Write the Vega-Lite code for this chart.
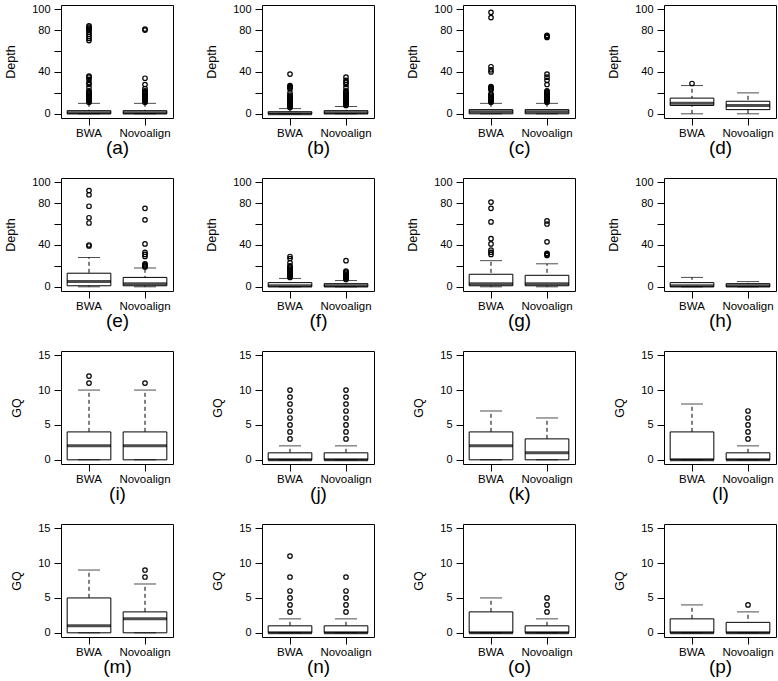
{
"$schema":"https://vega.github.io/schema/vega-lite/v6.json",
"padding":{"left":4,"top":2,"right":0,"bottom":0},
"datasets":{"d":[
{"p":"a","g":"BWA","lo":0,"q1":0,"med":1,"q3":3,"hi":10},{"p":"a","g":"Novoalign","lo":0,"q1":0,"med":1,"q3":3,"hi":10},
{"p":"b","g":"BWA","lo":0,"q1":0,"med":0,"q3":2,"hi":5},{"p":"b","g":"Novoalign","lo":0,"q1":0,"med":1,"q3":3,"hi":7},
{"p":"c","g":"BWA","lo":0,"q1":0,"med":2,"q3":4,"hi":10},{"p":"c","g":"Novoalign","lo":0,"q1":0,"med":2,"q3":4,"hi":10},
{"p":"d","g":"BWA","lo":0,"q1":8,"med":10,"q3":15,"hi":27},{"p":"d","g":"Novoalign","lo":0,"q1":4,"med":8,"q3":12,"hi":20},
{"p":"e","g":"BWA","lo":0,"q1":1,"med":5,"q3":13,"hi":28},{"p":"e","g":"Novoalign","lo":0,"q1":1,"med":3,"q3":9,"hi":18},
{"p":"f","g":"BWA","lo":0,"q1":0,"med":1,"q3":4,"hi":8},{"p":"f","g":"Novoalign","lo":0,"q1":0,"med":1,"q3":3,"hi":6},
{"p":"g","g":"BWA","lo":0,"q1":1,"med":3,"q3":12,"hi":25},{"p":"g","g":"Novoalign","lo":0,"q1":1,"med":3,"q3":11,"hi":22},
{"p":"h","g":"BWA","lo":0,"q1":0,"med":1,"q3":4,"hi":9},{"p":"h","g":"Novoalign","lo":0,"q1":0,"med":1,"q3":3,"hi":5},
{"p":"i","g":"BWA","lo":0,"q1":0,"med":2,"q3":4,"hi":10},{"p":"i","g":"Novoalign","lo":0,"q1":0,"med":2,"q3":4,"hi":10},
{"p":"j","g":"BWA","lo":0,"q1":0,"med":0,"q3":1,"hi":2},{"p":"j","g":"Novoalign","lo":0,"q1":0,"med":0,"q3":1,"hi":2},
{"p":"k","g":"BWA","lo":0,"q1":0,"med":2,"q3":4,"hi":7},{"p":"k","g":"Novoalign","lo":0,"q1":0,"med":1,"q3":3,"hi":6},
{"p":"l","g":"BWA","lo":0,"q1":0,"med":0,"q3":4,"hi":8},{"p":"l","g":"Novoalign","lo":0,"q1":0,"med":0,"q3":1,"hi":2},
{"p":"m","g":"BWA","lo":0,"q1":0,"med":1,"q3":5,"hi":9},{"p":"m","g":"Novoalign","lo":0,"q1":0,"med":2,"q3":3,"hi":7},
{"p":"n","g":"BWA","lo":0,"q1":0,"med":0,"q3":1,"hi":2},{"p":"n","g":"Novoalign","lo":0,"q1":0,"med":0,"q3":1,"hi":2},
{"p":"o","g":"BWA","lo":0,"q1":0,"med":0,"q3":3,"hi":5},{"p":"o","g":"Novoalign","lo":0,"q1":0,"med":0,"q3":1,"hi":2},
{"p":"p","g":"BWA","lo":0,"q1":0,"med":0,"q3":2,"hi":4},{"p":"p","g":"Novoalign","lo":0,"q1":0,"med":0,"q3":1.5,"hi":3},
{"p":"a","g":"BWA","v":11},{"p":"a","g":"BWA","v":12},{"p":"a","g":"BWA","v":13},{"p":"a","g":"BWA","v":14},{"p":"a","g":"BWA","v":15},{"p":"a","g":"BWA","v":16},{"p":"a","g":"BWA","v":17},{"p":"a","g":"BWA","v":18},{"p":"a","g":"BWA","v":19},{"p":"a","g":"BWA","v":20},{"p":"a","g":"BWA","v":21},{"p":"a","g":"BWA","v":22},{"p":"a","g":"BWA","v":25},{"p":"a","g":"BWA","v":28},{"p":"a","g":"BWA","v":30},{"p":"a","g":"BWA","v":33},{"p":"a","g":"BWA","v":35},{"p":"a","g":"BWA","v":36},{"p":"a","g":"BWA","v":70},{"p":"a","g":"BWA","v":72},{"p":"a","g":"BWA","v":74},{"p":"a","g":"BWA","v":76},{"p":"a","g":"BWA","v":78},{"p":"a","g":"BWA","v":80},{"p":"a","g":"BWA","v":81},{"p":"a","g":"BWA","v":82},{"p":"a","g":"BWA","v":83},{"p":"a","g":"BWA","v":84},
{"p":"a","g":"Novoalign","v":11},{"p":"a","g":"Novoalign","v":12},{"p":"a","g":"Novoalign","v":13},{"p":"a","g":"Novoalign","v":14},{"p":"a","g":"Novoalign","v":15},{"p":"a","g":"Novoalign","v":16},{"p":"a","g":"Novoalign","v":17},{"p":"a","g":"Novoalign","v":18},{"p":"a","g":"Novoalign","v":19},{"p":"a","g":"Novoalign","v":20},{"p":"a","g":"Novoalign","v":21},{"p":"a","g":"Novoalign","v":22},{"p":"a","g":"Novoalign","v":24},{"p":"a","g":"Novoalign","v":28},{"p":"a","g":"Novoalign","v":34},{"p":"a","g":"Novoalign","v":80},{"p":"a","g":"Novoalign","v":81},
{"p":"b","g":"BWA","v":6},{"p":"b","g":"BWA","v":7},{"p":"b","g":"BWA","v":8},{"p":"b","g":"BWA","v":9},{"p":"b","g":"BWA","v":10},{"p":"b","g":"BWA","v":11},{"p":"b","g":"BWA","v":12},{"p":"b","g":"BWA","v":13},{"p":"b","g":"BWA","v":14},{"p":"b","g":"BWA","v":15},{"p":"b","g":"BWA","v":16},{"p":"b","g":"BWA","v":17},{"p":"b","g":"BWA","v":18},{"p":"b","g":"BWA","v":20},{"p":"b","g":"BWA","v":24},{"p":"b","g":"BWA","v":25},{"p":"b","g":"BWA","v":26},{"p":"b","g":"BWA","v":27},{"p":"b","g":"BWA","v":38},
{"p":"b","g":"Novoalign","v":8},{"p":"b","g":"Novoalign","v":9},{"p":"b","g":"Novoalign","v":10},{"p":"b","g":"Novoalign","v":11},{"p":"b","g":"Novoalign","v":12},{"p":"b","g":"Novoalign","v":13},{"p":"b","g":"Novoalign","v":14},{"p":"b","g":"Novoalign","v":15},{"p":"b","g":"Novoalign","v":16},{"p":"b","g":"Novoalign","v":17},{"p":"b","g":"Novoalign","v":18},{"p":"b","g":"Novoalign","v":19},{"p":"b","g":"Novoalign","v":20},{"p":"b","g":"Novoalign","v":21},{"p":"b","g":"Novoalign","v":22},{"p":"b","g":"Novoalign","v":25},{"p":"b","g":"Novoalign","v":28},{"p":"b","g":"Novoalign","v":30},{"p":"b","g":"Novoalign","v":32},{"p":"b","g":"Novoalign","v":35},
{"p":"c","g":"BWA","v":11},{"p":"c","g":"BWA","v":12},{"p":"c","g":"BWA","v":13},{"p":"c","g":"BWA","v":14},{"p":"c","g":"BWA","v":15},{"p":"c","g":"BWA","v":16},{"p":"c","g":"BWA","v":17},{"p":"c","g":"BWA","v":18},{"p":"c","g":"BWA","v":19},{"p":"c","g":"BWA","v":23},{"p":"c","g":"BWA","v":24},{"p":"c","g":"BWA","v":25},{"p":"c","g":"BWA","v":26},{"p":"c","g":"BWA","v":40},{"p":"c","g":"BWA","v":42},{"p":"c","g":"BWA","v":45},{"p":"c","g":"BWA","v":92},{"p":"c","g":"BWA","v":97},
{"p":"c","g":"Novoalign","v":11},{"p":"c","g":"Novoalign","v":12},{"p":"c","g":"Novoalign","v":13},{"p":"c","g":"Novoalign","v":14},{"p":"c","g":"Novoalign","v":15},{"p":"c","g":"Novoalign","v":16},{"p":"c","g":"Novoalign","v":17},{"p":"c","g":"Novoalign","v":18},{"p":"c","g":"Novoalign","v":19},{"p":"c","g":"Novoalign","v":20},{"p":"c","g":"Novoalign","v":21},{"p":"c","g":"Novoalign","v":22},{"p":"c","g":"Novoalign","v":28},{"p":"c","g":"Novoalign","v":32},{"p":"c","g":"Novoalign","v":35},{"p":"c","g":"Novoalign","v":38},{"p":"c","g":"Novoalign","v":73},{"p":"c","g":"Novoalign","v":74},{"p":"c","g":"Novoalign","v":75},
{"p":"d","g":"BWA","v":29},
{"p":"e","g":"BWA","v":39},{"p":"e","g":"BWA","v":40},{"p":"e","g":"BWA","v":61},{"p":"e","g":"BWA","v":66},{"p":"e","g":"BWA","v":77},{"p":"e","g":"BWA","v":88},{"p":"e","g":"BWA","v":92},
{"p":"e","g":"Novoalign","v":19},{"p":"e","g":"Novoalign","v":20},{"p":"e","g":"Novoalign","v":21},{"p":"e","g":"Novoalign","v":22},{"p":"e","g":"Novoalign","v":29},{"p":"e","g":"Novoalign","v":31},{"p":"e","g":"Novoalign","v":33},{"p":"e","g":"Novoalign","v":41},{"p":"e","g":"Novoalign","v":64},{"p":"e","g":"Novoalign","v":75},
{"p":"f","g":"BWA","v":9},{"p":"f","g":"BWA","v":10},{"p":"f","g":"BWA","v":11},{"p":"f","g":"BWA","v":12},{"p":"f","g":"BWA","v":13},{"p":"f","g":"BWA","v":14},{"p":"f","g":"BWA","v":15},{"p":"f","g":"BWA","v":16},{"p":"f","g":"BWA","v":17},{"p":"f","g":"BWA","v":18},{"p":"f","g":"BWA","v":19},{"p":"f","g":"BWA","v":20},{"p":"f","g":"BWA","v":23},{"p":"f","g":"BWA","v":27},{"p":"f","g":"BWA","v":29},
{"p":"f","g":"Novoalign","v":7},{"p":"f","g":"Novoalign","v":8},{"p":"f","g":"Novoalign","v":9},{"p":"f","g":"Novoalign","v":10},{"p":"f","g":"Novoalign","v":11},{"p":"f","g":"Novoalign","v":12},{"p":"f","g":"Novoalign","v":13},{"p":"f","g":"Novoalign","v":14},{"p":"f","g":"Novoalign","v":15},{"p":"f","g":"Novoalign","v":25},
{"p":"g","g":"BWA","v":31},{"p":"g","g":"BWA","v":33},{"p":"g","g":"BWA","v":35},{"p":"g","g":"BWA","v":41},{"p":"g","g":"BWA","v":46},{"p":"g","g":"BWA","v":62},{"p":"g","g":"BWA","v":75},{"p":"g","g":"BWA","v":81},
{"p":"g","g":"Novoalign","v":30},{"p":"g","g":"Novoalign","v":31},{"p":"g","g":"Novoalign","v":32},{"p":"g","g":"Novoalign","v":43},{"p":"g","g":"Novoalign","v":60},{"p":"g","g":"Novoalign","v":63},
{"p":"i","g":"BWA","v":11},{"p":"i","g":"BWA","v":12},{"p":"i","g":"Novoalign","v":11},
{"p":"j","g":"BWA","v":3},{"p":"j","g":"BWA","v":4},{"p":"j","g":"BWA","v":5},{"p":"j","g":"BWA","v":6},{"p":"j","g":"BWA","v":7},{"p":"j","g":"BWA","v":8},{"p":"j","g":"BWA","v":9},{"p":"j","g":"BWA","v":10},
{"p":"j","g":"Novoalign","v":3},{"p":"j","g":"Novoalign","v":4},{"p":"j","g":"Novoalign","v":5},{"p":"j","g":"Novoalign","v":6},{"p":"j","g":"Novoalign","v":7},{"p":"j","g":"Novoalign","v":8},{"p":"j","g":"Novoalign","v":9},{"p":"j","g":"Novoalign","v":10},
{"p":"l","g":"Novoalign","v":3},{"p":"l","g":"Novoalign","v":4},{"p":"l","g":"Novoalign","v":5},{"p":"l","g":"Novoalign","v":6},{"p":"l","g":"Novoalign","v":7},
{"p":"m","g":"Novoalign","v":8},{"p":"m","g":"Novoalign","v":9},
{"p":"n","g":"BWA","v":3},{"p":"n","g":"BWA","v":4},{"p":"n","g":"BWA","v":5},{"p":"n","g":"BWA","v":6},{"p":"n","g":"BWA","v":8},{"p":"n","g":"BWA","v":11},
{"p":"n","g":"Novoalign","v":3},{"p":"n","g":"Novoalign","v":4},{"p":"n","g":"Novoalign","v":5},{"p":"n","g":"Novoalign","v":6},{"p":"n","g":"Novoalign","v":8},
{"p":"o","g":"Novoalign","v":3},{"p":"o","g":"Novoalign","v":4},{"p":"o","g":"Novoalign","v":5},
{"p":"p","g":"Novoalign","v":4}
]},
"data":{"name":"d"},
"columns":4,
"spacing":{"row":60,"column":89},
"bounds":"flush",
"concat":[
{"width":112,"height":113,"transform":[{"filter":"datum.p=='a'"}],"encoding":{"x":{"field":"g","type":"nominal","title":"(a)","scale":{"domain":["BWA","Novoalign"],"paddingInner":0,"paddingOuter":0}}},"layer":[
{"mark":{"type":"rule","strokeDash":[4,3],"color":"black"},"encoding":{"y":{"field":"lo","type":"quantitative","title":"Depth","scale":{"domain":[-4,104],"nice":false},"axis":{"values":[0,20,40,60,80,100],"labelExpr":"datum.value==20||datum.value==60?'':datum.label","labelOverlap":false}},"y2":{"field":"hi"}}},
{"mark":{"type":"bar","width":{"band":0.78},"fill":"white","stroke":"black","strokeWidth":1},"encoding":{"y":{"field":"q1","type":"quantitative","title":"Depth","scale":{"domain":[-4,104],"nice":false},"axis":{"values":[0,20,40,60,80,100],"labelExpr":"datum.value==20||datum.value==60?'':datum.label","labelOverlap":false}},"y2":{"field":"q3"}}},
{"mark":{"type":"tick","size":44,"thickness":3,"color":"black"},"encoding":{"y":{"field":"med","type":"quantitative","title":"Depth","scale":{"domain":[-4,104],"nice":false},"axis":{"values":[0,20,40,60,80,100],"labelExpr":"datum.value==20||datum.value==60?'':datum.label","labelOverlap":false}}}},
{"transform":[{"fold":["lo","hi"],"as":["k","cap"]}],"mark":{"type":"tick","size":22,"thickness":1,"color":"black"},"encoding":{"y":{"field":"cap","type":"quantitative","title":"Depth","scale":{"domain":[-4,104],"nice":false},"axis":{"values":[0,20,40,60,80,100],"labelExpr":"datum.value==20||datum.value==60?'':datum.label","labelOverlap":false}}}},
{"mark":{"type":"point","shape":"circle","filled":false,"size":20,"strokeWidth":1.2,"color":"black","opacity":1},"encoding":{"y":{"field":"v","type":"quantitative","title":"Depth","scale":{"domain":[-4,104],"nice":false},"axis":{"values":[0,20,40,60,80,100],"labelExpr":"datum.value==20||datum.value==60?'':datum.label","labelOverlap":false}}}}]},
{"width":112,"height":113,"transform":[{"filter":"datum.p=='b'"}],"encoding":{"x":{"field":"g","type":"nominal","title":"(b)","scale":{"domain":["BWA","Novoalign"],"paddingInner":0,"paddingOuter":0}}},"layer":[
{"mark":{"type":"rule","strokeDash":[4,3],"color":"black"},"encoding":{"y":{"field":"lo","type":"quantitative","title":"Depth","scale":{"domain":[-4,104],"nice":false},"axis":{"values":[0,20,40,60,80,100],"labelExpr":"datum.value==20||datum.value==60?'':datum.label","labelOverlap":false}},"y2":{"field":"hi"}}},
{"mark":{"type":"bar","width":{"band":0.78},"fill":"white","stroke":"black","strokeWidth":1},"encoding":{"y":{"field":"q1","type":"quantitative","title":"Depth","scale":{"domain":[-4,104],"nice":false},"axis":{"values":[0,20,40,60,80,100],"labelExpr":"datum.value==20||datum.value==60?'':datum.label","labelOverlap":false}},"y2":{"field":"q3"}}},
{"mark":{"type":"tick","size":44,"thickness":3,"color":"black"},"encoding":{"y":{"field":"med","type":"quantitative","title":"Depth","scale":{"domain":[-4,104],"nice":false},"axis":{"values":[0,20,40,60,80,100],"labelExpr":"datum.value==20||datum.value==60?'':datum.label","labelOverlap":false}}}},
{"transform":[{"fold":["lo","hi"],"as":["k","cap"]}],"mark":{"type":"tick","size":22,"thickness":1,"color":"black"},"encoding":{"y":{"field":"cap","type":"quantitative","title":"Depth","scale":{"domain":[-4,104],"nice":false},"axis":{"values":[0,20,40,60,80,100],"labelExpr":"datum.value==20||datum.value==60?'':datum.label","labelOverlap":false}}}},
{"mark":{"type":"point","shape":"circle","filled":false,"size":20,"strokeWidth":1.2,"color":"black","opacity":1},"encoding":{"y":{"field":"v","type":"quantitative","title":"Depth","scale":{"domain":[-4,104],"nice":false},"axis":{"values":[0,20,40,60,80,100],"labelExpr":"datum.value==20||datum.value==60?'':datum.label","labelOverlap":false}}}}]},
{"width":112,"height":113,"transform":[{"filter":"datum.p=='c'"}],"encoding":{"x":{"field":"g","type":"nominal","title":"(c)","scale":{"domain":["BWA","Novoalign"],"paddingInner":0,"paddingOuter":0}}},"layer":[
{"mark":{"type":"rule","strokeDash":[4,3],"color":"black"},"encoding":{"y":{"field":"lo","type":"quantitative","title":"Depth","scale":{"domain":[-4,104],"nice":false},"axis":{"values":[0,20,40,60,80,100],"labelExpr":"datum.value==20||datum.value==60?'':datum.label","labelOverlap":false}},"y2":{"field":"hi"}}},
{"mark":{"type":"bar","width":{"band":0.78},"fill":"white","stroke":"black","strokeWidth":1},"encoding":{"y":{"field":"q1","type":"quantitative","title":"Depth","scale":{"domain":[-4,104],"nice":false},"axis":{"values":[0,20,40,60,80,100],"labelExpr":"datum.value==20||datum.value==60?'':datum.label","labelOverlap":false}},"y2":{"field":"q3"}}},
{"mark":{"type":"tick","size":44,"thickness":3,"color":"black"},"encoding":{"y":{"field":"med","type":"quantitative","title":"Depth","scale":{"domain":[-4,104],"nice":false},"axis":{"values":[0,20,40,60,80,100],"labelExpr":"datum.value==20||datum.value==60?'':datum.label","labelOverlap":false}}}},
{"transform":[{"fold":["lo","hi"],"as":["k","cap"]}],"mark":{"type":"tick","size":22,"thickness":1,"color":"black"},"encoding":{"y":{"field":"cap","type":"quantitative","title":"Depth","scale":{"domain":[-4,104],"nice":false},"axis":{"values":[0,20,40,60,80,100],"labelExpr":"datum.value==20||datum.value==60?'':datum.label","labelOverlap":false}}}},
{"mark":{"type":"point","shape":"circle","filled":false,"size":20,"strokeWidth":1.2,"color":"black","opacity":1},"encoding":{"y":{"field":"v","type":"quantitative","title":"Depth","scale":{"domain":[-4,104],"nice":false},"axis":{"values":[0,20,40,60,80,100],"labelExpr":"datum.value==20||datum.value==60?'':datum.label","labelOverlap":false}}}}]},
{"width":112,"height":113,"transform":[{"filter":"datum.p=='d'"}],"encoding":{"x":{"field":"g","type":"nominal","title":"(d)","scale":{"domain":["BWA","Novoalign"],"paddingInner":0,"paddingOuter":0}}},"layer":[
{"mark":{"type":"rule","strokeDash":[4,3],"color":"black"},"encoding":{"y":{"field":"lo","type":"quantitative","title":"Depth","scale":{"domain":[-4,104],"nice":false},"axis":{"values":[0,20,40,60,80,100],"labelExpr":"datum.value==20||datum.value==60?'':datum.label","labelOverlap":false}},"y2":{"field":"hi"}}},
{"mark":{"type":"bar","width":{"band":0.78},"fill":"white","stroke":"black","strokeWidth":1},"encoding":{"y":{"field":"q1","type":"quantitative","title":"Depth","scale":{"domain":[-4,104],"nice":false},"axis":{"values":[0,20,40,60,80,100],"labelExpr":"datum.value==20||datum.value==60?'':datum.label","labelOverlap":false}},"y2":{"field":"q3"}}},
{"mark":{"type":"tick","size":44,"thickness":3,"color":"black"},"encoding":{"y":{"field":"med","type":"quantitative","title":"Depth","scale":{"domain":[-4,104],"nice":false},"axis":{"values":[0,20,40,60,80,100],"labelExpr":"datum.value==20||datum.value==60?'':datum.label","labelOverlap":false}}}},
{"transform":[{"fold":["lo","hi"],"as":["k","cap"]}],"mark":{"type":"tick","size":22,"thickness":1,"color":"black"},"encoding":{"y":{"field":"cap","type":"quantitative","title":"Depth","scale":{"domain":[-4,104],"nice":false},"axis":{"values":[0,20,40,60,80,100],"labelExpr":"datum.value==20||datum.value==60?'':datum.label","labelOverlap":false}}}},
{"mark":{"type":"point","shape":"circle","filled":false,"size":20,"strokeWidth":1.2,"color":"black","opacity":1},"encoding":{"y":{"field":"v","type":"quantitative","title":"Depth","scale":{"domain":[-4,104],"nice":false},"axis":{"values":[0,20,40,60,80,100],"labelExpr":"datum.value==20||datum.value==60?'':datum.label","labelOverlap":false}}}}]},
{"width":112,"height":113,"transform":[{"filter":"datum.p=='e'"}],"encoding":{"x":{"field":"g","type":"nominal","title":"(e)","scale":{"domain":["BWA","Novoalign"],"paddingInner":0,"paddingOuter":0}}},"layer":[
{"mark":{"type":"rule","strokeDash":[4,3],"color":"black"},"encoding":{"y":{"field":"lo","type":"quantitative","title":"Depth","scale":{"domain":[-4,104],"nice":false},"axis":{"values":[0,20,40,60,80,100],"labelExpr":"datum.value==20||datum.value==60?'':datum.label","labelOverlap":false}},"y2":{"field":"hi"}}},
{"mark":{"type":"bar","width":{"band":0.78},"fill":"white","stroke":"black","strokeWidth":1},"encoding":{"y":{"field":"q1","type":"quantitative","title":"Depth","scale":{"domain":[-4,104],"nice":false},"axis":{"values":[0,20,40,60,80,100],"labelExpr":"datum.value==20||datum.value==60?'':datum.label","labelOverlap":false}},"y2":{"field":"q3"}}},
{"mark":{"type":"tick","size":44,"thickness":3,"color":"black"},"encoding":{"y":{"field":"med","type":"quantitative","title":"Depth","scale":{"domain":[-4,104],"nice":false},"axis":{"values":[0,20,40,60,80,100],"labelExpr":"datum.value==20||datum.value==60?'':datum.label","labelOverlap":false}}}},
{"transform":[{"fold":["lo","hi"],"as":["k","cap"]}],"mark":{"type":"tick","size":22,"thickness":1,"color":"black"},"encoding":{"y":{"field":"cap","type":"quantitative","title":"Depth","scale":{"domain":[-4,104],"nice":false},"axis":{"values":[0,20,40,60,80,100],"labelExpr":"datum.value==20||datum.value==60?'':datum.label","labelOverlap":false}}}},
{"mark":{"type":"point","shape":"circle","filled":false,"size":20,"strokeWidth":1.2,"color":"black","opacity":1},"encoding":{"y":{"field":"v","type":"quantitative","title":"Depth","scale":{"domain":[-4,104],"nice":false},"axis":{"values":[0,20,40,60,80,100],"labelExpr":"datum.value==20||datum.value==60?'':datum.label","labelOverlap":false}}}}]},
{"width":112,"height":113,"transform":[{"filter":"datum.p=='f'"}],"encoding":{"x":{"field":"g","type":"nominal","title":"(f)","scale":{"domain":["BWA","Novoalign"],"paddingInner":0,"paddingOuter":0}}},"layer":[
{"mark":{"type":"rule","strokeDash":[4,3],"color":"black"},"encoding":{"y":{"field":"lo","type":"quantitative","title":"Depth","scale":{"domain":[-4,104],"nice":false},"axis":{"values":[0,20,40,60,80,100],"labelExpr":"datum.value==20||datum.value==60?'':datum.label","labelOverlap":false}},"y2":{"field":"hi"}}},
{"mark":{"type":"bar","width":{"band":0.78},"fill":"white","stroke":"black","strokeWidth":1},"encoding":{"y":{"field":"q1","type":"quantitative","title":"Depth","scale":{"domain":[-4,104],"nice":false},"axis":{"values":[0,20,40,60,80,100],"labelExpr":"datum.value==20||datum.value==60?'':datum.label","labelOverlap":false}},"y2":{"field":"q3"}}},
{"mark":{"type":"tick","size":44,"thickness":3,"color":"black"},"encoding":{"y":{"field":"med","type":"quantitative","title":"Depth","scale":{"domain":[-4,104],"nice":false},"axis":{"values":[0,20,40,60,80,100],"labelExpr":"datum.value==20||datum.value==60?'':datum.label","labelOverlap":false}}}},
{"transform":[{"fold":["lo","hi"],"as":["k","cap"]}],"mark":{"type":"tick","size":22,"thickness":1,"color":"black"},"encoding":{"y":{"field":"cap","type":"quantitative","title":"Depth","scale":{"domain":[-4,104],"nice":false},"axis":{"values":[0,20,40,60,80,100],"labelExpr":"datum.value==20||datum.value==60?'':datum.label","labelOverlap":false}}}},
{"mark":{"type":"point","shape":"circle","filled":false,"size":20,"strokeWidth":1.2,"color":"black","opacity":1},"encoding":{"y":{"field":"v","type":"quantitative","title":"Depth","scale":{"domain":[-4,104],"nice":false},"axis":{"values":[0,20,40,60,80,100],"labelExpr":"datum.value==20||datum.value==60?'':datum.label","labelOverlap":false}}}}]},
{"width":112,"height":113,"transform":[{"filter":"datum.p=='g'"}],"encoding":{"x":{"field":"g","type":"nominal","title":"(g)","scale":{"domain":["BWA","Novoalign"],"paddingInner":0,"paddingOuter":0}}},"layer":[
{"mark":{"type":"rule","strokeDash":[4,3],"color":"black"},"encoding":{"y":{"field":"lo","type":"quantitative","title":"Depth","scale":{"domain":[-4,104],"nice":false},"axis":{"values":[0,20,40,60,80,100],"labelExpr":"datum.value==20||datum.value==60?'':datum.label","labelOverlap":false}},"y2":{"field":"hi"}}},
{"mark":{"type":"bar","width":{"band":0.78},"fill":"white","stroke":"black","strokeWidth":1},"encoding":{"y":{"field":"q1","type":"quantitative","title":"Depth","scale":{"domain":[-4,104],"nice":false},"axis":{"values":[0,20,40,60,80,100],"labelExpr":"datum.value==20||datum.value==60?'':datum.label","labelOverlap":false}},"y2":{"field":"q3"}}},
{"mark":{"type":"tick","size":44,"thickness":3,"color":"black"},"encoding":{"y":{"field":"med","type":"quantitative","title":"Depth","scale":{"domain":[-4,104],"nice":false},"axis":{"values":[0,20,40,60,80,100],"labelExpr":"datum.value==20||datum.value==60?'':datum.label","labelOverlap":false}}}},
{"transform":[{"fold":["lo","hi"],"as":["k","cap"]}],"mark":{"type":"tick","size":22,"thickness":1,"color":"black"},"encoding":{"y":{"field":"cap","type":"quantitative","title":"Depth","scale":{"domain":[-4,104],"nice":false},"axis":{"values":[0,20,40,60,80,100],"labelExpr":"datum.value==20||datum.value==60?'':datum.label","labelOverlap":false}}}},
{"mark":{"type":"point","shape":"circle","filled":false,"size":20,"strokeWidth":1.2,"color":"black","opacity":1},"encoding":{"y":{"field":"v","type":"quantitative","title":"Depth","scale":{"domain":[-4,104],"nice":false},"axis":{"values":[0,20,40,60,80,100],"labelExpr":"datum.value==20||datum.value==60?'':datum.label","labelOverlap":false}}}}]},
{"width":112,"height":113,"transform":[{"filter":"datum.p=='h'"}],"encoding":{"x":{"field":"g","type":"nominal","title":"(h)","scale":{"domain":["BWA","Novoalign"],"paddingInner":0,"paddingOuter":0}}},"layer":[
{"mark":{"type":"rule","strokeDash":[4,3],"color":"black"},"encoding":{"y":{"field":"lo","type":"quantitative","title":"Depth","scale":{"domain":[-4,104],"nice":false},"axis":{"values":[0,20,40,60,80,100],"labelExpr":"datum.value==20||datum.value==60?'':datum.label","labelOverlap":false}},"y2":{"field":"hi"}}},
{"mark":{"type":"bar","width":{"band":0.78},"fill":"white","stroke":"black","strokeWidth":1},"encoding":{"y":{"field":"q1","type":"quantitative","title":"Depth","scale":{"domain":[-4,104],"nice":false},"axis":{"values":[0,20,40,60,80,100],"labelExpr":"datum.value==20||datum.value==60?'':datum.label","labelOverlap":false}},"y2":{"field":"q3"}}},
{"mark":{"type":"tick","size":44,"thickness":3,"color":"black"},"encoding":{"y":{"field":"med","type":"quantitative","title":"Depth","scale":{"domain":[-4,104],"nice":false},"axis":{"values":[0,20,40,60,80,100],"labelExpr":"datum.value==20||datum.value==60?'':datum.label","labelOverlap":false}}}},
{"transform":[{"fold":["lo","hi"],"as":["k","cap"]}],"mark":{"type":"tick","size":22,"thickness":1,"color":"black"},"encoding":{"y":{"field":"cap","type":"quantitative","title":"Depth","scale":{"domain":[-4,104],"nice":false},"axis":{"values":[0,20,40,60,80,100],"labelExpr":"datum.value==20||datum.value==60?'':datum.label","labelOverlap":false}}}},
{"mark":{"type":"point","shape":"circle","filled":false,"size":20,"strokeWidth":1.2,"color":"black","opacity":1},"encoding":{"y":{"field":"v","type":"quantitative","title":"Depth","scale":{"domain":[-4,104],"nice":false},"axis":{"values":[0,20,40,60,80,100],"labelExpr":"datum.value==20||datum.value==60?'':datum.label","labelOverlap":false}}}}]},
{"width":112,"height":113,"transform":[{"filter":"datum.p=='i'"}],"encoding":{"x":{"field":"g","type":"nominal","title":"(i)","scale":{"domain":["BWA","Novoalign"],"paddingInner":0,"paddingOuter":0}}},"layer":[
{"mark":{"type":"rule","strokeDash":[4,3],"color":"black"},"encoding":{"y":{"field":"lo","type":"quantitative","title":"GQ","scale":{"domain":[-0.6,15.6],"nice":false},"axis":{"values":[0,5,10,15],"labelOverlap":false}},"y2":{"field":"hi"}}},
{"mark":{"type":"bar","width":{"band":0.78},"fill":"white","stroke":"black","strokeWidth":1},"encoding":{"y":{"field":"q1","type":"quantitative","title":"GQ","scale":{"domain":[-0.6,15.6],"nice":false},"axis":{"values":[0,5,10,15],"labelOverlap":false}},"y2":{"field":"q3"}}},
{"mark":{"type":"tick","size":44,"thickness":3,"color":"black"},"encoding":{"y":{"field":"med","type":"quantitative","title":"GQ","scale":{"domain":[-0.6,15.6],"nice":false},"axis":{"values":[0,5,10,15],"labelOverlap":false}}}},
{"transform":[{"fold":["lo","hi"],"as":["k","cap"]}],"mark":{"type":"tick","size":22,"thickness":1,"color":"black"},"encoding":{"y":{"field":"cap","type":"quantitative","title":"GQ","scale":{"domain":[-0.6,15.6],"nice":false},"axis":{"values":[0,5,10,15],"labelOverlap":false}}}},
{"mark":{"type":"point","shape":"circle","filled":false,"size":20,"strokeWidth":1.2,"color":"black","opacity":1},"encoding":{"y":{"field":"v","type":"quantitative","title":"GQ","scale":{"domain":[-0.6,15.6],"nice":false},"axis":{"values":[0,5,10,15],"labelOverlap":false}}}}]},
{"width":112,"height":113,"transform":[{"filter":"datum.p=='j'"}],"encoding":{"x":{"field":"g","type":"nominal","title":"(j)","scale":{"domain":["BWA","Novoalign"],"paddingInner":0,"paddingOuter":0}}},"layer":[
{"mark":{"type":"rule","strokeDash":[4,3],"color":"black"},"encoding":{"y":{"field":"lo","type":"quantitative","title":"GQ","scale":{"domain":[-0.6,15.6],"nice":false},"axis":{"values":[0,5,10,15],"labelOverlap":false}},"y2":{"field":"hi"}}},
{"mark":{"type":"bar","width":{"band":0.78},"fill":"white","stroke":"black","strokeWidth":1},"encoding":{"y":{"field":"q1","type":"quantitative","title":"GQ","scale":{"domain":[-0.6,15.6],"nice":false},"axis":{"values":[0,5,10,15],"labelOverlap":false}},"y2":{"field":"q3"}}},
{"mark":{"type":"tick","size":44,"thickness":3,"color":"black"},"encoding":{"y":{"field":"med","type":"quantitative","title":"GQ","scale":{"domain":[-0.6,15.6],"nice":false},"axis":{"values":[0,5,10,15],"labelOverlap":false}}}},
{"transform":[{"fold":["lo","hi"],"as":["k","cap"]}],"mark":{"type":"tick","size":22,"thickness":1,"color":"black"},"encoding":{"y":{"field":"cap","type":"quantitative","title":"GQ","scale":{"domain":[-0.6,15.6],"nice":false},"axis":{"values":[0,5,10,15],"labelOverlap":false}}}},
{"mark":{"type":"point","shape":"circle","filled":false,"size":20,"strokeWidth":1.2,"color":"black","opacity":1},"encoding":{"y":{"field":"v","type":"quantitative","title":"GQ","scale":{"domain":[-0.6,15.6],"nice":false},"axis":{"values":[0,5,10,15],"labelOverlap":false}}}}]},
{"width":112,"height":113,"transform":[{"filter":"datum.p=='k'"}],"encoding":{"x":{"field":"g","type":"nominal","title":"(k)","scale":{"domain":["BWA","Novoalign"],"paddingInner":0,"paddingOuter":0}}},"layer":[
{"mark":{"type":"rule","strokeDash":[4,3],"color":"black"},"encoding":{"y":{"field":"lo","type":"quantitative","title":"GQ","scale":{"domain":[-0.6,15.6],"nice":false},"axis":{"values":[0,5,10,15],"labelOverlap":false}},"y2":{"field":"hi"}}},
{"mark":{"type":"bar","width":{"band":0.78},"fill":"white","stroke":"black","strokeWidth":1},"encoding":{"y":{"field":"q1","type":"quantitative","title":"GQ","scale":{"domain":[-0.6,15.6],"nice":false},"axis":{"values":[0,5,10,15],"labelOverlap":false}},"y2":{"field":"q3"}}},
{"mark":{"type":"tick","size":44,"thickness":3,"color":"black"},"encoding":{"y":{"field":"med","type":"quantitative","title":"GQ","scale":{"domain":[-0.6,15.6],"nice":false},"axis":{"values":[0,5,10,15],"labelOverlap":false}}}},
{"transform":[{"fold":["lo","hi"],"as":["k","cap"]}],"mark":{"type":"tick","size":22,"thickness":1,"color":"black"},"encoding":{"y":{"field":"cap","type":"quantitative","title":"GQ","scale":{"domain":[-0.6,15.6],"nice":false},"axis":{"values":[0,5,10,15],"labelOverlap":false}}}},
{"mark":{"type":"point","shape":"circle","filled":false,"size":20,"strokeWidth":1.2,"color":"black","opacity":1},"encoding":{"y":{"field":"v","type":"quantitative","title":"GQ","scale":{"domain":[-0.6,15.6],"nice":false},"axis":{"values":[0,5,10,15],"labelOverlap":false}}}}]},
{"width":112,"height":113,"transform":[{"filter":"datum.p=='l'"}],"encoding":{"x":{"field":"g","type":"nominal","title":"(l)","scale":{"domain":["BWA","Novoalign"],"paddingInner":0,"paddingOuter":0}}},"layer":[
{"mark":{"type":"rule","strokeDash":[4,3],"color":"black"},"encoding":{"y":{"field":"lo","type":"quantitative","title":"GQ","scale":{"domain":[-0.6,15.6],"nice":false},"axis":{"values":[0,5,10,15],"labelOverlap":false}},"y2":{"field":"hi"}}},
{"mark":{"type":"bar","width":{"band":0.78},"fill":"white","stroke":"black","strokeWidth":1},"encoding":{"y":{"field":"q1","type":"quantitative","title":"GQ","scale":{"domain":[-0.6,15.6],"nice":false},"axis":{"values":[0,5,10,15],"labelOverlap":false}},"y2":{"field":"q3"}}},
{"mark":{"type":"tick","size":44,"thickness":3,"color":"black"},"encoding":{"y":{"field":"med","type":"quantitative","title":"GQ","scale":{"domain":[-0.6,15.6],"nice":false},"axis":{"values":[0,5,10,15],"labelOverlap":false}}}},
{"transform":[{"fold":["lo","hi"],"as":["k","cap"]}],"mark":{"type":"tick","size":22,"thickness":1,"color":"black"},"encoding":{"y":{"field":"cap","type":"quantitative","title":"GQ","scale":{"domain":[-0.6,15.6],"nice":false},"axis":{"values":[0,5,10,15],"labelOverlap":false}}}},
{"mark":{"type":"point","shape":"circle","filled":false,"size":20,"strokeWidth":1.2,"color":"black","opacity":1},"encoding":{"y":{"field":"v","type":"quantitative","title":"GQ","scale":{"domain":[-0.6,15.6],"nice":false},"axis":{"values":[0,5,10,15],"labelOverlap":false}}}}]},
{"width":112,"height":113,"transform":[{"filter":"datum.p=='m'"}],"encoding":{"x":{"field":"g","type":"nominal","title":"(m)","scale":{"domain":["BWA","Novoalign"],"paddingInner":0,"paddingOuter":0}}},"layer":[
{"mark":{"type":"rule","strokeDash":[4,3],"color":"black"},"encoding":{"y":{"field":"lo","type":"quantitative","title":"GQ","scale":{"domain":[-0.6,15.6],"nice":false},"axis":{"values":[0,5,10,15],"labelOverlap":false}},"y2":{"field":"hi"}}},
{"mark":{"type":"bar","width":{"band":0.78},"fill":"white","stroke":"black","strokeWidth":1},"encoding":{"y":{"field":"q1","type":"quantitative","title":"GQ","scale":{"domain":[-0.6,15.6],"nice":false},"axis":{"values":[0,5,10,15],"labelOverlap":false}},"y2":{"field":"q3"}}},
{"mark":{"type":"tick","size":44,"thickness":3,"color":"black"},"encoding":{"y":{"field":"med","type":"quantitative","title":"GQ","scale":{"domain":[-0.6,15.6],"nice":false},"axis":{"values":[0,5,10,15],"labelOverlap":false}}}},
{"transform":[{"fold":["lo","hi"],"as":["k","cap"]}],"mark":{"type":"tick","size":22,"thickness":1,"color":"black"},"encoding":{"y":{"field":"cap","type":"quantitative","title":"GQ","scale":{"domain":[-0.6,15.6],"nice":false},"axis":{"values":[0,5,10,15],"labelOverlap":false}}}},
{"mark":{"type":"point","shape":"circle","filled":false,"size":20,"strokeWidth":1.2,"color":"black","opacity":1},"encoding":{"y":{"field":"v","type":"quantitative","title":"GQ","scale":{"domain":[-0.6,15.6],"nice":false},"axis":{"values":[0,5,10,15],"labelOverlap":false}}}}]},
{"width":112,"height":113,"transform":[{"filter":"datum.p=='n'"}],"encoding":{"x":{"field":"g","type":"nominal","title":"(n)","scale":{"domain":["BWA","Novoalign"],"paddingInner":0,"paddingOuter":0}}},"layer":[
{"mark":{"type":"rule","strokeDash":[4,3],"color":"black"},"encoding":{"y":{"field":"lo","type":"quantitative","title":"GQ","scale":{"domain":[-0.6,15.6],"nice":false},"axis":{"values":[0,5,10,15],"labelOverlap":false}},"y2":{"field":"hi"}}},
{"mark":{"type":"bar","width":{"band":0.78},"fill":"white","stroke":"black","strokeWidth":1},"encoding":{"y":{"field":"q1","type":"quantitative","title":"GQ","scale":{"domain":[-0.6,15.6],"nice":false},"axis":{"values":[0,5,10,15],"labelOverlap":false}},"y2":{"field":"q3"}}},
{"mark":{"type":"tick","size":44,"thickness":3,"color":"black"},"encoding":{"y":{"field":"med","type":"quantitative","title":"GQ","scale":{"domain":[-0.6,15.6],"nice":false},"axis":{"values":[0,5,10,15],"labelOverlap":false}}}},
{"transform":[{"fold":["lo","hi"],"as":["k","cap"]}],"mark":{"type":"tick","size":22,"thickness":1,"color":"black"},"encoding":{"y":{"field":"cap","type":"quantitative","title":"GQ","scale":{"domain":[-0.6,15.6],"nice":false},"axis":{"values":[0,5,10,15],"labelOverlap":false}}}},
{"mark":{"type":"point","shape":"circle","filled":false,"size":20,"strokeWidth":1.2,"color":"black","opacity":1},"encoding":{"y":{"field":"v","type":"quantitative","title":"GQ","scale":{"domain":[-0.6,15.6],"nice":false},"axis":{"values":[0,5,10,15],"labelOverlap":false}}}}]},
{"width":112,"height":113,"transform":[{"filter":"datum.p=='o'"}],"encoding":{"x":{"field":"g","type":"nominal","title":"(o)","scale":{"domain":["BWA","Novoalign"],"paddingInner":0,"paddingOuter":0}}},"layer":[
{"mark":{"type":"rule","strokeDash":[4,3],"color":"black"},"encoding":{"y":{"field":"lo","type":"quantitative","title":"GQ","scale":{"domain":[-0.6,15.6],"nice":false},"axis":{"values":[0,5,10,15],"labelOverlap":false}},"y2":{"field":"hi"}}},
{"mark":{"type":"bar","width":{"band":0.78},"fill":"white","stroke":"black","strokeWidth":1},"encoding":{"y":{"field":"q1","type":"quantitative","title":"GQ","scale":{"domain":[-0.6,15.6],"nice":false},"axis":{"values":[0,5,10,15],"labelOverlap":false}},"y2":{"field":"q3"}}},
{"mark":{"type":"tick","size":44,"thickness":3,"color":"black"},"encoding":{"y":{"field":"med","type":"quantitative","title":"GQ","scale":{"domain":[-0.6,15.6],"nice":false},"axis":{"values":[0,5,10,15],"labelOverlap":false}}}},
{"transform":[{"fold":["lo","hi"],"as":["k","cap"]}],"mark":{"type":"tick","size":22,"thickness":1,"color":"black"},"encoding":{"y":{"field":"cap","type":"quantitative","title":"GQ","scale":{"domain":[-0.6,15.6],"nice":false},"axis":{"values":[0,5,10,15],"labelOverlap":false}}}},
{"mark":{"type":"point","shape":"circle","filled":false,"size":20,"strokeWidth":1.2,"color":"black","opacity":1},"encoding":{"y":{"field":"v","type":"quantitative","title":"GQ","scale":{"domain":[-0.6,15.6],"nice":false},"axis":{"values":[0,5,10,15],"labelOverlap":false}}}}]},
{"width":112,"height":113,"transform":[{"filter":"datum.p=='p'"}],"encoding":{"x":{"field":"g","type":"nominal","title":"(p)","scale":{"domain":["BWA","Novoalign"],"paddingInner":0,"paddingOuter":0}}},"layer":[
{"mark":{"type":"rule","strokeDash":[4,3],"color":"black"},"encoding":{"y":{"field":"lo","type":"quantitative","title":"GQ","scale":{"domain":[-0.6,15.6],"nice":false},"axis":{"values":[0,5,10,15],"labelOverlap":false}},"y2":{"field":"hi"}}},
{"mark":{"type":"bar","width":{"band":0.78},"fill":"white","stroke":"black","strokeWidth":1},"encoding":{"y":{"field":"q1","type":"quantitative","title":"GQ","scale":{"domain":[-0.6,15.6],"nice":false},"axis":{"values":[0,5,10,15],"labelOverlap":false}},"y2":{"field":"q3"}}},
{"mark":{"type":"tick","size":44,"thickness":3,"color":"black"},"encoding":{"y":{"field":"med","type":"quantitative","title":"GQ","scale":{"domain":[-0.6,15.6],"nice":false},"axis":{"values":[0,5,10,15],"labelOverlap":false}}}},
{"transform":[{"fold":["lo","hi"],"as":["k","cap"]}],"mark":{"type":"tick","size":22,"thickness":1,"color":"black"},"encoding":{"y":{"field":"cap","type":"quantitative","title":"GQ","scale":{"domain":[-0.6,15.6],"nice":false},"axis":{"values":[0,5,10,15],"labelOverlap":false}}}},
{"mark":{"type":"point","shape":"circle","filled":false,"size":20,"strokeWidth":1.2,"color":"black","opacity":1},"encoding":{"y":{"field":"v","type":"quantitative","title":"GQ","scale":{"domain":[-0.6,15.6],"nice":false},"axis":{"values":[0,5,10,15],"labelOverlap":false}}}}]}
],
"config":{
"font":"Liberation Sans",
"view":{"stroke":"black","strokeWidth":1},
"axis":{"grid":false,"domain":false,"tickColor":"black","tickSize":7,"labelColor":"black","titleColor":"black","titleFontWeight":"normal"},
"axisX":{"labelAngle":0,"labelFontSize":11.5,"labelPadding":2,"titleFontSize":19,"titlePadding":0},
"axisY":{"labelFontSize":11,"labelPadding":4,"titleFontSize":12.5,"titlePadding":14}
}
}
